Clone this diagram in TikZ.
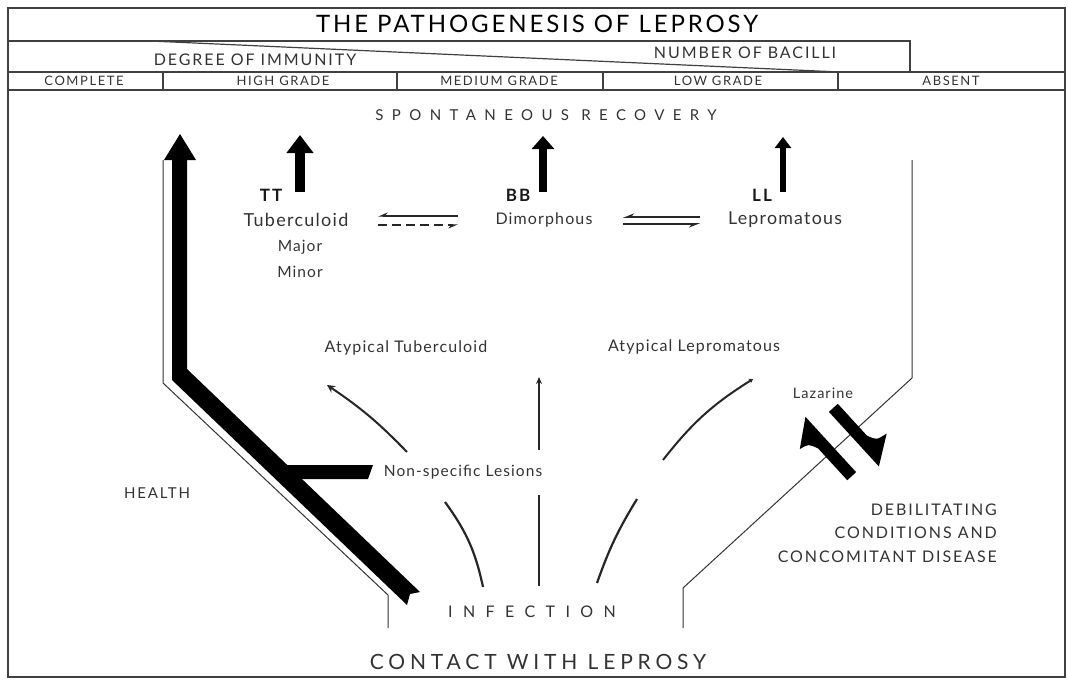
\documentclass[tikz,border=0pt]{standalone}
\usepackage{fontspec}
\setmainfont{Lato}
\newfontfamily\capsfont[LetterSpace=12]{Lato}
\newfontfamily\bodyfont[LetterSpace=7]{Lato}
\newfontfamily\spacedfont[LetterSpace=56]{Lato}
\newfontfamily\infectfont[LetterSpace=65]{Lato}
\newfontfamily\contactfont[LetterSpace=23]{Lato}
\usetikzlibrary{arrows.meta}

\begin{document}
\begin{tikzpicture}[x=1pt,y=-1pt,line join=miter,
  rule/.style={black!75,line width=1.2pt},
  outline/.style={black!80,line width=1pt},
  txt/.style={text=black!80,inner sep=0pt},
  caps/.style={txt,font=\capsfont\fontsize{13}{15}\selectfont},
  body/.style={txt,font=\bodyfont\fontsize{#1}{#1}\selectfont},
  code/.style={txt,text=black!90,font=\capsfont\bfseries\fontsize{17}{19}\selectfont},
  flow/.style={black!85,line width=2.2pt},
  recov/.style={black,line width=#1},
  eqline/.style={black!85,line width=2pt}]
\useasboundingbox (0,0) rectangle (1068,680);
% frame and header
\draw[rule] (8,8) rectangle (1065,677);
\draw[rule] (8,41) -- (910,41) -- (910,72);
\draw[rule] (8,72) -- (1065,72);
\draw[rule] (8,90) -- (1065,90);
\draw[rule] (150,41) -- (840,72);
\foreach \xd in {163,397,603,838}
  \draw[rule] (\xd,72) -- (\xd,90);
\node[txt,text=black,font=\capsfont\fontsize{24}{28}\selectfont] (title) at (537,24) {THE PATHOGENESIS OF LEPROSY};
\node[caps,font=\capsfont\fontsize{16}{18}\selectfont] (immunity) at (255,60) {DEGREE OF IMMUNITY};
\node[caps,font=\capsfont\fontsize{16}{18}\selectfont] (bacilli) at (745,53) {NUMBER OF BACILLI};
\node[caps] (complete) at (84,81) {COMPLETE};
\node[caps] (high) at (283,81) {HIGH GRADE};
\node[caps] (medium) at (499,81) {MEDIUM GRADE};
\node[caps] (low) at (718,81) {LOW GRADE};
\node[caps] (absent) at (951,81) {ABSENT};
% outcomes
\node[txt,font=\spacedfont\fontsize{15}{17}\selectfont] (recovery) at (546,115) {SPONTANEOUS RECOVERY};
\node[code] (tt) at (271,195) {TT};
\node[code] (bb) at (518,195) {BB};
\node[code] (ll) at (762,195) {LL};
\node[body=18] (tuber) at (296,220) {Tuberculoid};
\node[body=15.5] (major) at (300,247) {Major};
\node[body=15.5] (minor) at (300,272) {Minor};
\node[body=16] (dimorph) at (544,220) {Dimorphous};
\node[body=17.8] (leprom) at (785,220) {Lepromatous};
\coordinate (tt-foot) at (300,192);
\coordinate (tt-top) at (300,135);
\coordinate (bb-foot) at (543,192);
\coordinate (bb-top) at (543,136);
\coordinate (ll-foot) at (783,192);
\coordinate (ll-top) at (783,137);
\draw[recov=10pt,-{Triangle[length=18pt,width=26pt]}] (tt-foot) -- (tt-top);
\draw[recov=8pt,-{Triangle[length=13pt,width=22pt]}] (bb-foot) -- (bb-top);
\draw[recov=6pt,-{Triangle[length=11pt,width=16pt]}] (ll-foot) -- (ll-top);
% equilibria
\draw[eqline,-{Stealth[harpoon,swap,length=8pt,width=7pt]}] (458,216) -- (378,216);
\draw[eqline,dash pattern=on 9pt off 5pt,-{Stealth[harpoon,swap,length=8pt,width=7pt]}] (378,225) -- (458,225);
\draw[eqline,line width=2.6pt,-{Stealth[harpoon,swap,length=9pt,width=7pt]}] (700,217) -- (623,217);
\draw[eqline,line width=2.6pt,-{Stealth[harpoon,swap,length=9pt,width=7pt]}] (623,224) -- (700,224);
% health route
\draw[outline] (163,160) -- (163,383) -- (388,595) -- (388,628);
\draw[outline] (912,160) -- (912,378) -- (683,588) -- (683,628);
\fill[black] (164,160) -- (180,134) -- (196,160) -- (187,160) -- (187,369) -- (420,592)
  -- (410,594) -- (407,605) -- (172,380) -- (172,160) -- cycle;
\fill[black] (265,465) -- (373,465) -- (368,479) -- (278,479) -- cycle;
% early lesions
\node[body=16] (atub) at (406,348) {Atypical Tuberculoid};
\node[body=16] (alep) at (694,347) {Atypical Lepromatous};
\node[body=15.5] (lesions) at (463,472) {Non-specific Lesions};
\node[body=14.5] (lazarine) at (823,393) {Lazarine};
\coordinate (atub-from) at (407,452);
\coordinate (atub-to) at (327,385);
\coordinate (mid-from) at (539,450);
\coordinate (mid-to) at (539,377);
\coordinate (alep-from) at (663,460);
\coordinate (alep-to) at (753,379);
\draw[flow,line width=2pt,-{Stealth[length=8pt,width=8pt]}] (atub-from) to[bend right=6] (atub-to);
\draw[flow,line width=2pt,-{Stealth[length=7pt,width=6pt]}] (mid-from) -- (mid-to);
\draw[flow,line width=2pt,-{Stealth[length=4pt,width=5pt]}] (alep-from) to[bend left=10] (alep-to);
\coordinate (inf-l) at (483,587);
\coordinate (inf-c) at (539,586);
\coordinate (inf-r) at (597,583);
\draw[flow] (inf-l) to[bend right=12] (445,502);
\draw[flow] (inf-c) -- (539,495);
\draw[flow] (inf-r) to[bend left=6] (637,499);
% lazarine break
\begin{scope}[shift={(830,454)},rotate=-47.5]
\fill[black] (31,-7) -- (-44,-7) -- (-24,19) .. controls (-22,9) .. (-12,5) -- (31,5) -- cycle;
\end{scope}
\begin{scope}[shift={(855,430)},rotate=-47.5]
\fill[black] (-31,7) -- (43,7) -- (24,-21) .. controls (22,-9) .. (12,-5) -- (-31,-5) -- cycle;
\end{scope}
% bottom and sides
\node[caps,font=\capsfont\fontsize{15}{17}\selectfont] (health) at (157,493) {HEALTH};
\node[caps,font=\capsfont\fontsize{16}{23.5}\selectfont,align=right,anchor=east] (debil) at (997,533) {DEBILITATING\\CONDITIONS AND\\CONCOMITANT DISEASE};
\node[txt,font=\infectfont\fontsize{16}{18}\selectfont] (infection) at (532,612) {INFECTION};
\node[txt,font=\contactfont\fontsize{21}{23}\selectfont] (contact) at (538,662) {CONTACT WITH LEPROSY};
\end{tikzpicture}
\end{document}
